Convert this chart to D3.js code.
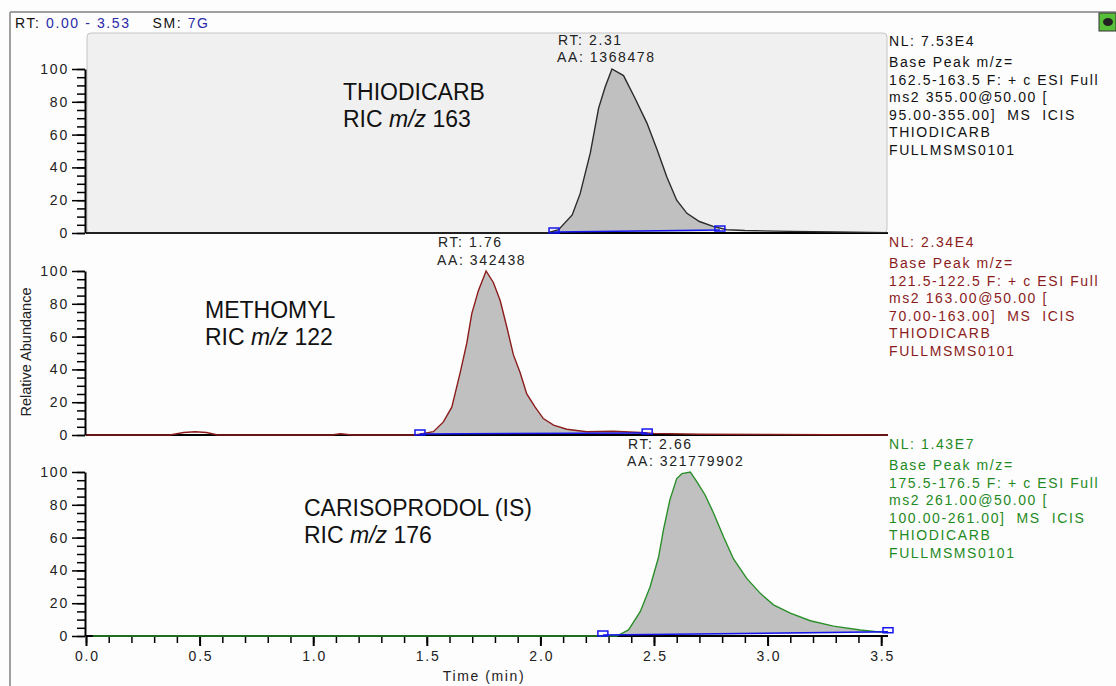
<!DOCTYPE html>
<html>
<head>
<meta charset="utf-8">
<script src="https://cdn.jsdelivr.net/npm/d3@7"></script>
<style>
  html, body { margin: 0; padding: 0; background: #fdfdfd; }
  svg { display: block; font-family: "Liberation Sans", Arial, sans-serif; }
  .small { font-size: 14px; letter-spacing: 1.6px; white-space: pre; }
  .tick text { font-size: 14px; letter-spacing: 1.8px; fill: #222; font-family: "Liberation Sans", Arial, sans-serif; }
</style>
</head>
<body>
<div id="chart"></div>
<script>
// retention time (min) / relative abundance (%)
const thioTime  = [0, 2.0, 2.03, 2.08, 2.14, 2.175, 2.22, 2.256, 2.285, 2.315, 2.366, 2.417, 2.469, 2.513, 2.557, 2.60, 2.645, 2.70, 2.76, 2.82, 2.9, 3.1, 3.3, 3.53];
const thioAbund = [0, 0, 0, 2, 11, 24, 49, 76, 89, 100, 96, 82, 67, 51, 34, 20, 12, 7, 4, 2, 1.5, 1, 0.6, 0.2];

const methTime  = [0, 0.37, 0.43, 0.48, 0.53, 0.58, 1.08, 1.12, 1.17, 1.449, 1.529, 1.573, 1.61, 1.647, 1.676, 1.698, 1.727, 1.761, 1.793, 1.823, 1.852, 1.881, 1.911, 1.94, 1.977, 2.013, 2.058, 2.116, 2.204, 2.32, 2.44, 2.5, 2.7, 3.0, 3.53];
const methAbund = [0, 0, 1.5, 2, 1.5, 0, 0, 0.8, 0, 0, 2, 8, 17, 38, 56, 74, 88, 100, 93, 82, 66, 49, 38, 25, 17, 10, 6, 3.5, 2, 2.3, 1.5, 1, 0.5, 0.3, 0];

const carisTime  = [0.03, 2.336, 2.388, 2.44, 2.483, 2.52, 2.542, 2.57, 2.60, 2.623, 2.66, 2.689, 2.725, 2.762, 2.806, 2.85, 2.909, 2.968, 3.026, 3.10, 3.188, 3.29, 3.408, 3.51, 3.53];
const carisAbund = [0, 0, 3.7, 15, 30, 48, 65, 83, 96, 99, 100, 94, 86, 75, 60.5, 47, 35, 26, 19, 14, 9.3, 6, 3.7, 2.2, 2];

// integration start / end markers (time) and the baseline level at each
const thioMarks  = [2.06, 2.79];
const thioBase   = [0, 1.2];
const methMarks  = [1.47, 2.47];
const methBase   = [0, 0.6];
const carisMarks = [2.275, 3.53];
const carisBase  = [0, 2];

const compounds  = ["THIODICARB", "METHOMYL", "CARISOPRODOL (IS)"];
const ricLabels  = ["163", "122", "176"];
const peakRT     = ["RT: 2.31", "RT: 1.76", "RT: 2.66"];
const peakAA     = ["AA: 1368478", "AA: 342438", "AA: 321779902"];
const normLevels = ["NL: 7.53E4", "NL: 2.34E4", "NL: 1.43E7"];
const scanInfo = [
  ["Base Peak m/z=", "162.5-163.5 F: + c ESI Full", "ms2 355.00@50.00 [", "95.00-355.00]  MS  ICIS", "THIODICARB", "FULLMSMS0101"],
  ["Base Peak m/z=", "121.5-122.5 F: + c ESI Full", "ms2 163.00@50.00 [", "70.00-163.00]  MS  ICIS", "THIODICARB", "FULLMSMS0101"],
  ["Base Peak m/z=", "175.5-176.5 F: + c ESI Full", "ms2 261.00@50.00 [", "100.00-261.00]  MS  ICIS", "THIODICARB", "FULLMSMS0101"]
];

const width = 1116, height = 686;
const svg = d3.select("#chart").append("svg")
    .attr("width", width)
    .attr("height", height);

// window frame
svg.append("line").attr("x1", 10).attr("x2", width).attr("y1", 12).attr("y2", 12)
    .attr("stroke", "#a0a0a0").attr("stroke-width", 2);
svg.append("line").attr("x1", 10).attr("x2", 10).attr("y1", 12).attr("y2", height)
    .attr("stroke", "#a0a0a0").attr("stroke-width", 2);

// header
const head = svg.append("text").attr("class", "small").attr("x", 15).attr("y", 28);
head.append("tspan").attr("fill", "#111").text("RT: ");
head.append("tspan").attr("fill", "#2a2aa8").text("0.00 - 3.53");
head.append("tspan").attr("fill", "#111").text("    SM: ");
head.append("tspan").attr("fill", "#2a2aa8").text("7G");

// little toolbar icon top right
svg.append("rect").attr("x", 1099).attr("y", 13).attr("width", 17).attr("height", 18)
    .attr("fill", "#58c038").attr("stroke", "#333");
svg.append("ellipse").attr("cx", 1108).attr("cy", 22).attr("rx", 5).attr("ry", 4).attr("fill", "#222");

const x = d3.scaleLinear().domain([0, 3.53]).range([86, 888]);

const panels = [
  { time: thioTime,  abund: thioAbund,  marks: thioMarks,  baseV: thioBase,  base: 233, line: "#2b2b2b", text: "#111111", lblX: 343, lblY: 100, bg: true },
  { time: methTime,  abund: methAbund,  marks: methMarks,  baseV: methBase,  base: 435, line: "#8b1c1c", text: "#8b1c1c", lblX: 205, lblY: 318 },
  { time: carisTime, abund: carisAbund, marks: carisMarks, baseV: carisBase, base: 636, line: "#2a8f2a", text: "#1f8a1f", lblX: 304, lblY: 516 }
];
const rtPos = [[558, 45, 62], [438, 247, 265], [628, 449, 466]];
const nlY = [46, 247, 449];

function interp(ts, vs, t) {
  const i = d3.bisectLeft(ts, t);
  if (i <= 0) return vs[0];
  if (i >= ts.length) return vs[vs.length - 1];
  const f = (t - ts[i - 1]) / (ts[i] - ts[i - 1]);
  return vs[i - 1] + f * (vs[i] - vs[i - 1]);
}

panels.forEach((p, k) => {
  const y = d3.scaleLinear().domain([0, 100]).range([p.base, p.base - 164]);
  const g = svg.append("g");

  if (p.bg) {
    g.append("rect").attr("x", 87).attr("y", 33).attr("width", 800).attr("height", 200)
        .attr("rx", 4).attr("fill", "#f0f0f0").attr("stroke", "#c4c4c4");
  }

  const pts = p.time.map((t, i) => [t, p.abund[i]]);
  const [m0, m1] = p.marks;
  const [b0, b1] = p.baseV;
  const baseAt = t => b0 + (t - m0) / (m1 - m0) * (b1 - b0);
  const inside = [[m0, interp(p.time, p.abund, m0)]]
      .concat(pts.filter(d => d[0] > m0 && d[0] < m1), [[m1, interp(p.time, p.abund, m1)]]);

  // integrated area
  g.append("path")
      .datum(inside)
      .attr("fill", "#c0c0c0")
      .attr("d", d3.area().x(d => x(d[0])).y0(d => y(baseAt(d[0]))).y1(d => y(Math.max(d[1], baseAt(d[0])))));

  // x baseline (and full axis on the last panel)
  if (k < 2) {
    g.append("line").attr("x1", x(0)).attr("x2", x(3.53)).attr("y1", p.base).attr("y2", p.base)
        .attr("stroke", "#000").attr("stroke-width", 2);
  } else {
    const minor = g.append("g").attr("transform", `translate(0,${p.base})`)
        .call(d3.axisBottom(x).tickValues(d3.range(0, 36).map(i => i / 10)).tickSize(7).tickSizeOuter(0).tickFormat(""));
    minor.select(".domain").remove();
    minor.selectAll(".tick line").attr("stroke-width", 1.5);
    const major = g.append("g").attr("transform", `translate(0,${p.base})`)
        .call(d3.axisBottom(x).tickValues(d3.range(0, 8).map(i => i / 2)).tickSize(10).tickSizeOuter(0)
          .tickFormat(d3.format(".1f")).tickPadding(5));
    major.select(".domain").attr("d", `M${x(0)},0H${x(3.53)}`).attr("stroke-width", 2);
    major.selectAll(".tick line").attr("stroke-width", 2);
    major.selectAll(".tick text").attr("dx", "0.9px");
  }

  // trace
  g.append("path")
      .datum(pts)
      .attr("fill", "none")
      .attr("stroke", p.line)
      .attr("stroke-width", 1.4)
      .attr("d", d3.line().x(d => x(d[0])).y(d => y(d[1])));

  // integration baseline and markers
  g.append("line").attr("x1", x(m0)).attr("x2", x(m1)).attr("y1", y(b0) - 1).attr("y2", y(b1) - 1)
      .attr("stroke", "#1515f0").attr("stroke-width", 1.5);
  g.selectAll("rect.mark").data(p.marks).join("rect").attr("class", "mark")
      .attr("x", d => x(d) - 5).attr("y", (d, i) => y(p.baseV[i]) - 5)
      .attr("width", 10).attr("height", 5)
      .attr("fill", "none").attr("stroke", "#1515f0").attr("stroke-width", 1.5);

  // y axis: minor then major ticks
  const yMinor = g.append("g").attr("transform", "translate(85,0)")
      .call(d3.axisLeft(y).tickValues(d3.range(0, 101, 5)).tickSize(8).tickSizeOuter(0).tickFormat(""));
  yMinor.select(".domain").remove();
  yMinor.selectAll(".tick line").attr("stroke-width", 1.5);
  const yMajor = g.append("g").attr("transform", "translate(85,0)")
      .call(d3.axisLeft(y).tickValues(d3.range(0, 101, 20)).tickSize(13).tickSizeOuter(0).tickPadding(3));
  yMajor.select(".domain").attr("stroke-width", 2);
  yMajor.selectAll(".tick line").attr("stroke-width", 1.5);

  // compound label
  const lbl = g.append("text").attr("x", p.lblX).attr("y", p.lblY)
      .attr("font-size", 23).attr("fill", "#111");
  lbl.append("tspan").attr("x", p.lblX).text(compounds[k]);
  const ric = lbl.append("tspan").attr("x", p.lblX).attr("dy", 27);
  ric.append("tspan").text("RIC ");
  ric.append("tspan").attr("font-style", "italic").text("m/z");
  ric.append("tspan").text(" " + ricLabels[k]);

  // peak annotation
  const [rx, ry1, ry2] = rtPos[k];
  g.append("text").attr("class", "small").attr("x", rx).attr("y", ry1).attr("fill", "#222").text(peakRT[k]);
  g.append("text").attr("class", "small").attr("x", rx - 1).attr("y", ry2).attr("fill", "#222").text(peakAA[k]);

  // right-hand scan description
  const info = g.append("text").attr("class", "small").attr("fill", p.text);
  info.append("tspan").attr("x", 889).attr("y", nlY[k]).text(normLevels[k]);
  scanInfo[k].forEach((s, i) => {
    info.append("tspan").attr("x", 889).attr("y", nlY[k] + 21 + i * 17.6).text(s);
  });
});

// axis titles
svg.append("text")
    .attr("transform", "translate(31,352) rotate(-90)")
    .attr("text-anchor", "middle")
    .attr("font-size", 15)
    .attr("textLength", 129)
    .attr("lengthAdjust", "spacingAndGlyphs")
    .attr("fill", "#222")
    .text("Relative Abundance");

svg.append("text")
    .attr("class", "small")
    .attr("x", 484).attr("y", 681)
    .attr("text-anchor", "middle")
    .attr("fill", "#222")
    .text("Time (min)");
</script>
</body>
</html>
